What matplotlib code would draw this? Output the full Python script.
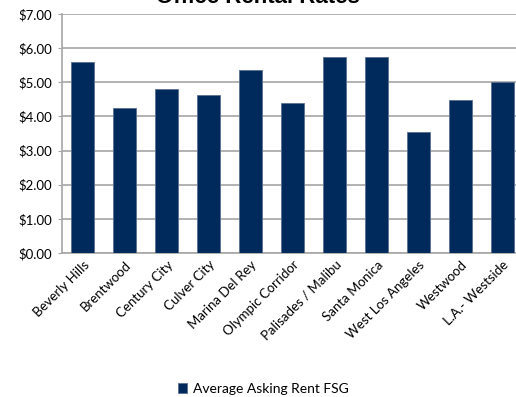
import matplotlib
matplotlib.use("Agg")
import matplotlib.pyplot as plt
from matplotlib.ticker import FuncFormatter

# chart data
areas = ["Beverly Hills", "Brentwood", "Century City", "Culver City",
         "Marina Del Rey", "Olympic Corridor", "Palisades / Malibu",
         "Santa Monica", "West Los Angeles", "Westwood", "L.A.- Westside"]
rent = [5.60, 4.24, 4.79, 4.63, 5.35, 4.38, 5.74, 5.74, 3.54, 4.48, 5.02]
series_name = "Average Asking Rent FSG"
chart_title = "Office Rental Rates"

navy = "#002a5c"
grid = "#a6a6a6"

plt.rcParams['font.family'] = ['Lato', 'DejaVu Sans']

fig = plt.figure(figsize=(5.16, 3.97), dpi=100)
ax = fig.add_axes([0.120, 0.3627, 0.8945, 0.602])

x = range(len(areas))
ax.bar(x, rent, width=0.55, color=navy, edgecolor="#5a7090", linewidth=0.6,
       label=series_name, zorder=3)

ax.set_xlim(-0.5, len(areas) - 0.5)
ax.set_ylim(0, 7)
ax.set_yticks([0, 1, 2, 3, 4, 5, 6, 7])
ax.yaxis.set_major_formatter(FuncFormatter(lambda v, p: f"${v:.2f}"))
ax.grid(axis="y", color=grid, linewidth=1.2, zorder=0)

for side in ["top", "right"]:
    ax.spines[side].set_visible(False)
for side in ["left", "bottom"]:
    ax.spines[side].set_color(grid)
    ax.spines[side].set_linewidth(1.2)

ax.tick_params(axis="y", length=3, color=grid, labelsize=9.5, pad=4)
ax.tick_params(axis="x", length=0, labelsize=9.5, pad=4)
ax.set_xticks(list(x))
ax.set_xticklabels(areas, rotation=45, ha="right", rotation_mode="anchor")

fig.text(0.5, 1 - 3 / 397, chart_title, ha="center", va="baseline",
         fontsize=16, fontweight="bold", family="Liberation Sans")

fig.legend(loc="center", bbox_to_anchor=(0.51, 0.02), frameon=False,
           fontsize=10, handlelength=0.7, handleheight=0.7, handletextpad=0.4)

fig.savefig("out.png", dpi=100)
